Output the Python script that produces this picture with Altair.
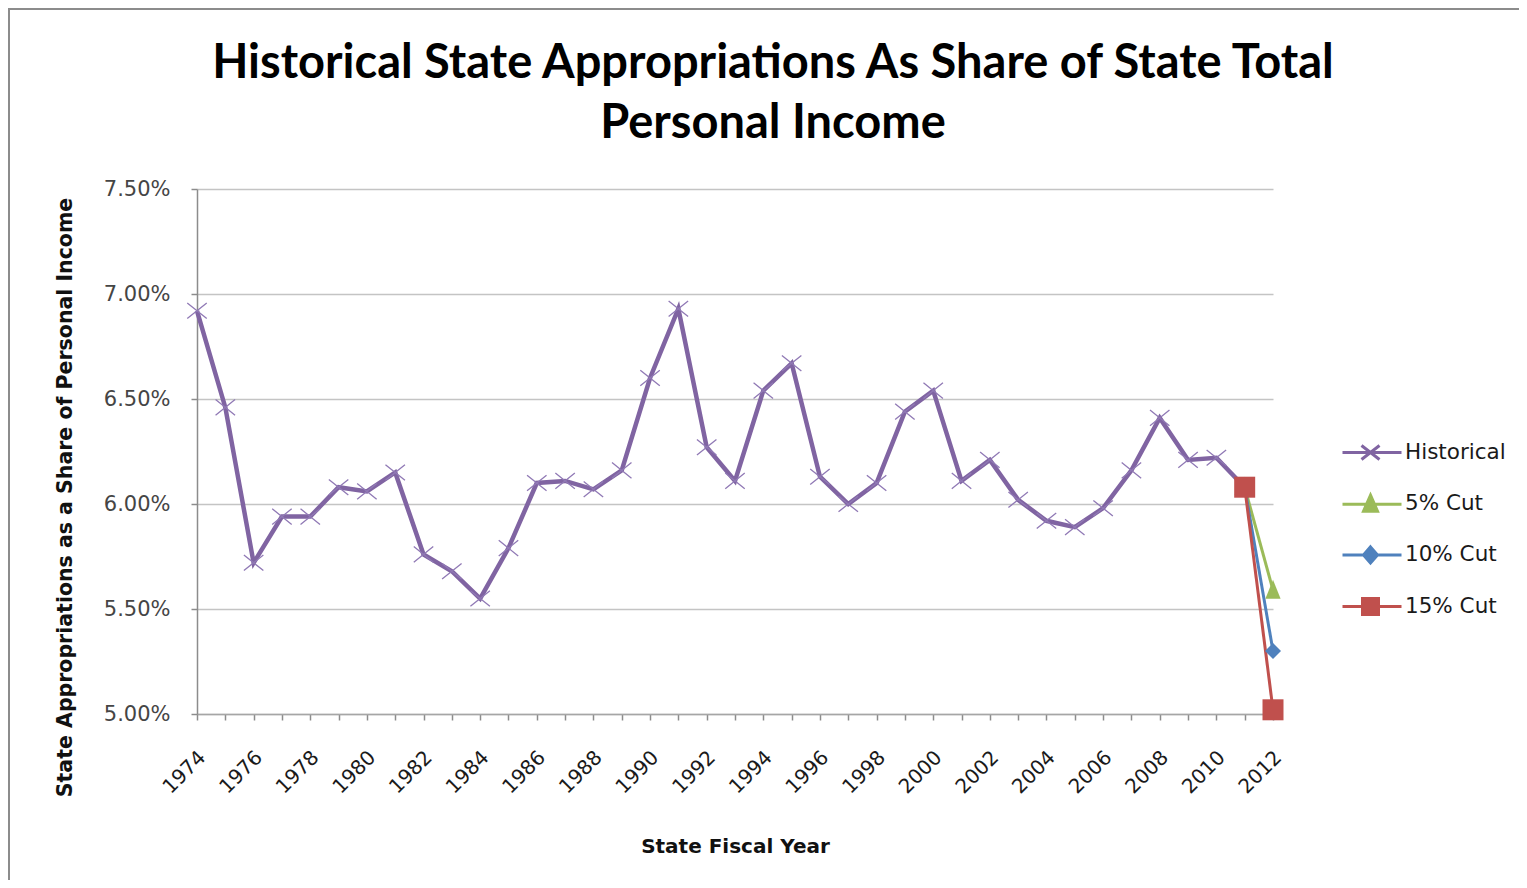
import altair as alt
import pandas as pd

# ---------------- data ----------------
YEARS = list(range(1974, 2012))
HISTORICAL = [6.92, 6.46, 5.72, 5.94, 5.94, 6.08, 6.06, 6.15, 5.76, 5.68,
              5.55, 5.79, 6.10, 6.11, 6.07, 6.16, 6.60, 6.93, 6.27, 6.11,
              6.54, 6.67, 6.13, 6.00, 6.10, 6.44, 6.54, 6.11, 6.21, 6.02,
              5.92, 5.89, 5.98, 6.16, 6.41, 6.21, 6.22, 6.08]
CUT_YEARS = [2011, 2012]
CUT_5 = [6.08, 5.59]
CUT_10 = [6.08, 5.30]
CUT_15 = [6.08, 5.02]

SERIES = ["Historical", "5% Cut", "10% Cut", "15% Cut"]
COLORS = ["#8064A2", "#9BBB59", "#4F81BD", "#C0504D"]
Y_TICKS = [5.0, 5.5, 6.0, 6.5, 7.0, 7.5]
X_TICKS = list(range(1974, 2013))
TITLE_LINES = ["Historical State Appropriations As Share of State Total",
               "Personal Income"]
Y_TITLE = "State Appropriations as a Share of Personal Income"
X_TITLE = "State Fiscal Year"

rows = [{"series": "Historical", "year": y, "value": v} for y, v in zip(YEARS, HISTORICAL)]
for name, vals in zip(SERIES[1:], [CUT_5, CUT_10, CUT_15]):
    rows += [{"series": name, "year": y, "value": v} for y, v in zip(CUT_YEARS, vals)]
df = pd.DataFrame(rows)

# ---------------- encodings ----------------
x_enc = alt.X(
    "year:Q",
    scale=alt.Scale(domain=[1974, 2012], nice=False, zero=False),
    axis=alt.Axis(
        values=X_TICKS,
        labelExpr="datum.value % 2 == 0 ? '' + datum.value : ''",
        labelAngle=315, labelAlign="right", labelBaseline="top",
        labelOffset=-2, labelPadding=27, labelOverlap=False, labelFlush=False,
        labelBound=False,
        labelFont="DejaVu Sans", labelFontSize=20, labelColor="#1a1a1a",
        grid=False, domainColor="#A6A6A6", domainWidth=1.5,
        tickColor="#8C8C8C", tickSize=6, tickWidth=1.5,
        title=X_TITLE, titleFont="DejaVu Sans", titleFontSize=20,
        titleFontWeight="bold", titleColor="#111111",
        titleY=132, titleBaseline="middle",
    ),
)
y_enc = alt.Y(
    "value:Q",
    scale=alt.Scale(domain=[5.0, 7.5], nice=False, zero=False),
    axis=alt.Axis(
        values=Y_TICKS,
        labelExpr="format(datum.value, '.2f') + '%'",
        labelFont="DejaVu Sans", labelFontSize=21, labelColor="#454545",
        labelPadding=21,
        grid=True, gridColor="#C4C4C4", gridWidth=1.5,
        domainColor="#8C8C8C", domainWidth=1.5,
        tickColor="#8C8C8C", tickSize=6, tickWidth=1.5,
        title=Y_TITLE, titleFont="DejaVu Sans", titleFontSize=20.5,
        titleFontWeight="bold", titleColor="#111111",
        titleAngle=270, titleX=-132, titleY=308,
        titleBaseline="middle", titleAlign="center",
    ),
)

# marker shapes in the plot
PLOT_SHAPES = {
    "Historical": ("M-1,-0.8L1,0.8M-1,0.8L1,-0.8", 380, False, 1.3),
    "5% Cut": ("M0,-1.1L0.8,0.9L-0.8,0.9Z", 361, True, 0),
    "10% Cut": ("M0,-1L1,0L0,1L-1,0Z", 256, True, 0),
    "15% Cut": ("M-1,-1H1V1H-1Z", 441, True, 0),
}
# legend symbols: line + marker
LEGEND_PATHS = [
    "M-4.9,0H1M-3.0,-0.7L-1.2,0.7M-3.0,0.7L-1.2,-0.7",
    "M-4.9,0H1M-2.1,-0.9L-1.4,0.7L-2.8,0.7Z",
    "M-4.9,0H1M-2.1,-0.8L-1.4,0L-2.1,0.8L-2.8,0Z",
    "M-4.9,0H1M-2.9,-0.8H-1.3V0.8H-2.9Z",
]

layers = []

# frame around the whole chart
frame = alt.Chart(pd.DataFrame({"k": [0]})).mark_rect(
    fill="transparent", stroke="#8C8C8C", strokeWidth=2
).encode(x=alt.value(-188), x2=alt.value(1400), y=alt.value(-180), y2=alt.value(900))
layers.append(frame)

# lines
for name, col in zip(SERIES, COLORS):
    sub = df[df.series == name]
    layers.append(
        alt.Chart(sub).mark_line(color=col, strokeWidth=4.5 if name == "Historical" else 3)
        .encode(x=x_enc, y=y_enc)
    )

# markers
for name, col in zip(SERIES, COLORS):
    sub = df[df.series == name]
    path, size, filled, sw = PLOT_SHAPES[name]
    if filled:
        m = alt.Chart(sub).mark_point(shape=path, size=size, filled=True,
                                      color=col, opacity=1)
    else:
        m = alt.Chart(sub).mark_point(shape=path, size=size, filled=False,
                                      color="#9079B5", strokeWidth=sw, opacity=1)
    layers.append(m.encode(x=x_enc, y=y_enc))

# legend (from scales only)
leg = alt.Legend(
    title=None, orient="none", legendX=1183, legendY=252, padding=0,
    rowPadding=22.7, symbolSize=400, symbolStrokeWidth=3, symbolOpacity=1,
    labelFont="DejaVu Sans", labelFontSize=21.5, labelColor="#1a1a1a",
    labelOffset=2, labelLimit=300,
)
legend_layer = alt.Chart(df).mark_point(filled=True, opacity=1).encode(
    x=x_enc, y=y_enc,
    fill=alt.Fill("series:N", scale=alt.Scale(domain=SERIES, range=COLORS), legend=leg),
    stroke=alt.Stroke("series:N", scale=alt.Scale(domain=SERIES, range=COLORS), legend=leg),
    shape=alt.Shape("series:N", scale=alt.Scale(domain=SERIES, range=LEGEND_PATHS), legend=leg),
).transform_filter("false")
layers.append(legend_layer)

chart = alt.layer(*layers).properties(
    width=1076, height=525,
    padding={"left": 189, "top": 181, "right": 246, "bottom": 166},
    autosize=alt.AutoSizeParams(type="none"),
    background="white",
    title=alt.TitleParams(
        text=TITLE_LINES, font="Lato", fontSize=47, fontWeight="bold",
        color="#000000", lineHeight=60, anchor="middle", frame="group",
        dx=38, dy=180, offset=40,
    ),
).configure_view(stroke="transparent")

chart.save("out.html", embed_options={"renderer": "svg", "actions": False})
